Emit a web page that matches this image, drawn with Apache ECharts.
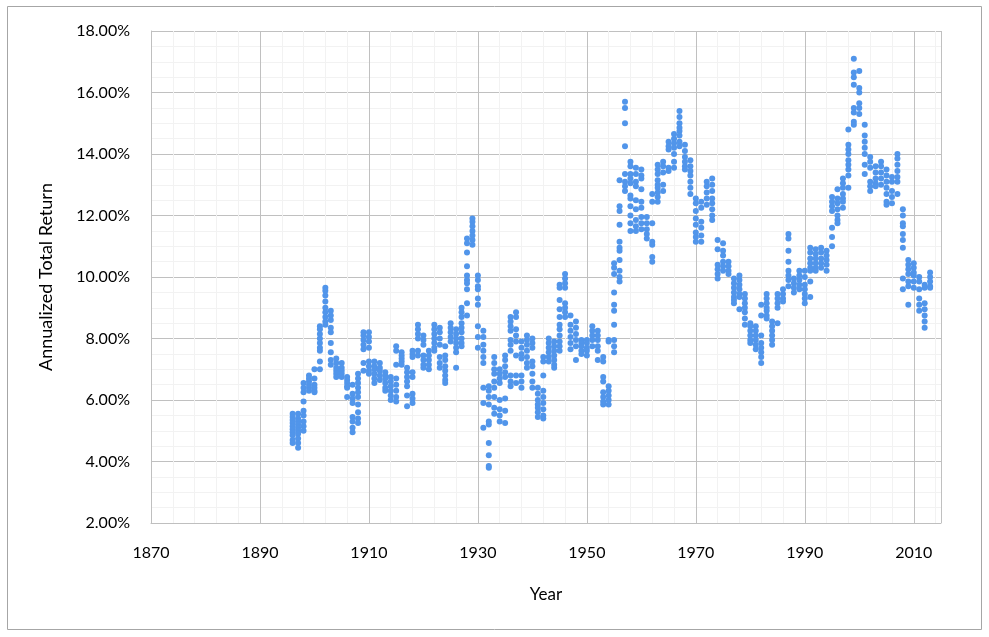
<!DOCTYPE html>
<html>
<head>
<meta charset="utf-8">
<script src="https://cdn.jsdelivr.net/npm/echarts@6/dist/echarts.min.js"></script>
<style>
html,body{margin:0;padding:0;background:#fff;}
#chart{width:989px;height:637px;}
</style>
</head>
<body>
<div id="chart"></div>
<script>
// Start years (x values) and the annualized total returns (%) observed for each year
const years = [1896,1897,1898,1899,1900,1901,1902,1903,1904,1905,1906,1907,1908,1909,1910,1911,1912,1913,1914,1915,1916,1917,1918,1919,1920,1921,1922,1923,1924,1925,1926,1927,1928,1929,1930,1931,1932,1933,1934,1935,1936,1937,1938,1939,1940,1941,1942,1943,1944,1945,1946,1947,1948,1949,1950,1951,1952,1953,1954,1955,1956,1957,1958,1959,1960,1961,1962,1963,1964,1965,1966,1967,1968,1969,1970,1971,1972,1973,1974,1975,1976,1977,1978,1979,1980,1981,1982,1983,1984,1985,1986,1987,1988,1989,1990,1991,1992,1993,1994,1995,1996,1997,1998,1999,2000,2001,2002,2003,2004,2005,2006,2007,2008,2009,2010,2011,2012,2013];

const returnsByYear = [
  [5.55,5.45,5.35,5.25,5.15,5.05,4.95,4.85,4.7,4.6],
  [5.55,5.4,5.3,5.2,5.1,5.0,4.9,4.75,4.6,4.45],
  [6.55,6.4,6.25,5.95,5.65,5.5,5.3,5.15,5.0],
  [6.8,6.7,6.6,6.5,6.4,6.3],
  [7.0,6.7,6.5,6.4,6.3,6.25],
  [8.4,8.3,8.15,8.0,7.85,7.7,7.6,7.25,7.0],
  [9.65,9.55,9.4,9.2,9.0,8.85,8.7,8.55,8.45],
  [8.9,8.75,8.6,8.35,8.2,7.85,7.55,7.3,7.15],
  [7.35,7.2,7.05,6.95,6.85,6.75],
  [7.2,7.05,6.95,6.85,6.75],
  [6.75,6.65,6.55,6.45,6.4,6.1],
  [6.5,6.2,6.05,5.9,5.45,5.3,5.1,4.95],
  [6.85,6.7,6.55,6.4,6.25,6.1,5.85,5.6,5.4,5.25],
  [8.2,8.1,7.95,7.8,7.65,7.2,6.95],
  [8.2,8.05,7.9,7.7,7.25,7.1,6.95,6.85],
  [7.25,7.1,7.0,6.85,6.7,6.55],
  [7.2,7.05,6.95,6.8,6.65],
  [6.9,6.8,6.7,6.55,6.4,6.3],
  [6.75,6.6,6.45,6.3,6.15,6.0],
  [7.75,7.6,7.15,6.7,6.5,6.3,6.1,5.95],
  [7.55,7.45,7.35,7.25,7.15],
  [7.05,6.9,6.75,6.6,6.45,6.15,5.8],
  [7.6,7.5,7.4,6.9,6.75,6.2,6.05,5.9],
  [8.45,8.3,8.15,8.0,7.6,7.45],
  [8.1,7.95,7.8,7.45,7.3,7.15,7.05],
  [7.6,7.45,7.3,7.15,7.0],
  [8.45,8.3,8.15,8.0,7.85,7.7,7.6],
  [8.35,8.2,8.0,7.8,7.4,7.2,7.05],
  [7.75,7.45,7.3,7.1,6.95,6.8,6.65,6.55],
  [8.5,8.35,8.2,8.05,7.9],
  [8.3,8.15,8.0,7.85,7.7,7.55,7.05],
  [9.0,8.85,8.7,8.5,8.35,8.2,8.0,7.85,7.75],
  [11.25,11.1,10.8,10.35,10.05,9.9,9.8,9.6,9.15,8.75],
  [11.9,11.8,11.65,11.5,11.35,11.2,11.05],
  [10.05,9.9,9.7,9.6,9.3,9.1,8.4,8.05,7.7],
  [8.25,8.05,7.8,7.6,7.4,7.2,6.4,5.9,5.1],
  [6.45,6.3,6.1,5.85,5.3,5.2,4.6,4.2,3.85,3.8],
  [7.4,7.2,7.0,6.85,6.6,6.4,6.1,5.75,5.55],
  [7.0,6.85,6.7,6.55,6.0,5.7,5.5,5.3],
  [7.45,7.3,7.1,6.9,6.75,6.05,5.65,5.25],
  [8.7,8.55,8.4,8.25,7.95,7.8,7.6,6.8,6.6,6.45],
  [8.85,8.7,8.3,8.1,7.9,7.45,6.8,6.55],
  [7.9,7.7,7.5,7.35,6.8,6.6,6.4],
  [8.1,7.95,7.8,7.6,7.4,7.2,7.05],
  [8.0,7.85,7.7,7.25,7.1,6.85,6.6,6.4],
  [6.4,6.2,6.0,5.85,5.75,5.6,5.45],
  [7.4,7.25,6.8,6.3,6.1,5.9,5.7,5.5,5.4],
  [8.0,7.85,7.7,7.55,7.4,7.25],
  [7.9,7.75,7.6,7.45,7.3,7.15,7.05],
  [9.75,9.65,9.25,8.95,8.7,8.45,8.3,8.1,7.9,7.75,7.6],
  [10.1,9.95,9.8,9.65,9.15,9.0,8.85,8.7],
  [8.75,8.45,8.25,8.05,7.85,7.65],
  [8.55,8.35,8.15,7.95,7.75,7.3],
  [7.95,7.85,7.75,7.6,7.5],
  [7.95,7.85,7.7,7.6,7.45],
  [8.4,8.25,8.1,7.95,7.75],
  [8.25,8.1,7.95,7.75,7.6,7.3],
  [7.4,7.25,6.75,6.6,6.25,6.1,5.95,5.85],
  [7.95,7.9,6.45,6.3,6.15,6.0,5.85],
  [10.45,10.3,10.1,9.5,9.1,8.9,8.45,7.95,7.75,7.55],
  [13.15,12.3,12.15,11.7,11.15,10.95,10.85,10.55,10.2,10.0,9.85],
  [15.7,15.5,15.0,14.25,13.35,13.1,12.95,12.8],
  [13.75,13.6,13.35,13.2,13.05,12.65,12.55,12.3,12.0,11.75,11.5],
  [13.55,13.35,13.1,12.95,12.5,12.2,11.85,11.65,11.5],
  [13.5,13.3,13.2,12.85,12.45,12.25,11.95,11.75,11.55],
  [11.95,11.75,11.55,11.4,11.25],
  [12.7,12.45,11.75,11.15,11.05,10.65,10.5],
  [13.65,13.5,13.35,13.15,13.0,12.9,12.75,12.6,12.45],
  [13.75,13.6,13.4,13.0,12.8],
  [14.4,14.25,14.15,13.55,13.45],
  [14.65,14.5,14.35,14.2,14.0,13.75,13.55],
  [15.4,15.2,15.0,14.85,14.75,14.6,14.4,14.25],
  [14.3,14.1,13.9,13.75,13.6,13.5],
  [13.8,13.6,13.45,13.3,13.1,12.9,12.7],
  [12.55,12.4,12.15,11.9,11.7,11.45,11.3,11.15],
  [12.45,12.25,11.8,11.6,11.35,11.15],
  [13.1,12.95,12.75,12.55,12.35],
  [13.2,13.0,12.8,12.55,12.4,12.2,12.0,11.85],
  [11.2,10.9,10.4,10.25,10.1,9.95],
  [11.1,10.85,10.7,10.5,10.35,10.2],
  [10.5,10.35,10.2,10.1],
  [9.95,9.8,9.65,9.5,9.35,9.25,9.15],
  [10.05,9.9,9.75,9.6,9.45,9.35,8.95],
  [9.45,9.3,9.15,9.0,8.85,8.65,8.45],
  [8.5,8.4,8.25,8.1,7.95,7.85],
  [8.4,8.25,8.1,7.95,7.8,7.65],
  [9.1,8.75,8.1,7.85,7.7,7.55,7.4,7.2],
  [9.45,9.3,9.15,9.0,8.9,8.75,8.65],
  [8.55,8.4,8.25,8.1,7.95,7.8],
  [9.45,9.3,9.15,9.0,8.5],
  [9.6,9.45,9.3,9.2],
  [11.4,11.25,10.85,10.5,10.2,10.05,9.9,9.7],
  [9.95,9.8,9.65,9.5],
  [10.2,10.05,9.9,9.75,9.6],
  [10.2,10.0,9.75,9.6,9.45,9.3,9.15],
  [10.95,10.8,10.6,10.45,10.3,10.2,9.85,9.35],
  [10.9,10.75,10.6,10.45,10.3,10.2],
  [10.95,10.8,10.6,10.45,10.3],
  [10.85,10.7,10.55,10.4,10.2],
  [12.6,12.45,12.3,12.15,11.6,11.3,11.0],
  [12.85,12.55,12.4,12.2,12.0,11.85,11.75],
  [13.2,13.05,12.9,12.7,12.55,12.45,12.25],
  [14.8,14.3,14.15,14.0,13.8,13.65,13.5,13.3,12.9],
  [17.1,16.65,16.5,16.25,15.5,15.35,15.05,14.95],
  [16.7,16.15,16.0,15.65,15.5,15.3],
  [14.95,14.6,14.4,14.2,14.0,13.65,13.35],
  [13.9,13.75,13.55,13.1,12.95,12.8],
  [13.6,13.4,13.2,13.05,12.95],
  [13.75,13.6,13.4,13.2,13.0],
  [13.5,13.3,13.1,12.9,12.7,12.45,12.35],
  [13.25,13.1,12.8,12.6,12.4],
  [14.0,13.85,13.65,13.45,13.25,13.1,12.7],
  [12.2,12.0,11.75,11.65,11.4,11.2,10.95,9.95,9.6],
  [10.55,10.4,10.25,10.1,9.85,9.7,9.1],
  [10.45,10.3,10.15,10.05,9.85,9.65],
  [10.0,9.85,9.6,9.3,9.1,8.9],
  [9.75,9.65,9.15,8.95,8.75,8.55,8.35],
  [10.15,10.0,9.85,9.7,9.65]
];

const xTitle = 'Year';
const yTitle = 'Annualized Total Return';

const points = [];
years.forEach((yr, i) => {
  returnsByYear[i].forEach(v => points.push([yr, v]));
});

const FONT = 'Lato, "Open Sans", sans-serif';
const chart = echarts.init(document.getElementById('chart'), null, {renderer: 'canvas'});
chart.setOption({
  animation: false,
  backgroundColor: '#ffffff',
  graphic: [{
    type: 'rect',
    shape: {x: 7.5, y: 6.5, width: 974, height: 623},
    style: {fill: 'none', stroke: '#a6a6a6', lineWidth: 1},
    silent: true,
    z: -1
  }],
  grid: {left: 151, top: 31, width: 790, height: 492, containLabel: false},
  xAxis: {
    type: 'value',
    min: 1870,
    max: 2015,
    interval: 20,
    name: xTitle,
    nameLocation: 'middle',
    nameGap: 63,
    nameTextStyle: {fontFamily: FONT, fontSize: 17, color: '#000'},
    axisLine: {show: true, lineStyle: {color: '#bfbfbf', width: 1}},
    axisTick: {show: false},
    axisLabel: {
      fontFamily: FONT, fontSize: 16, color: '#000', margin: 22,
      showMaxLabel: false,
      formatter: v => String(v)
    },
    splitLine: {show: true, lineStyle: {color: '#c0c0c0', width: 1}},
    minorTick: {show: false, splitNumber: 5},
    minorSplitLine: {show: true, lineStyle: {color: '#f2f2f2', width: 1}}
  },
  yAxis: {
    type: 'value',
    min: 2,
    max: 18,
    interval: 2,
    name: yTitle,
    nameLocation: 'middle',
    nameGap: 96,
    nameRotate: 90,
    nameTextStyle: {fontFamily: FONT, fontSize: 18, color: '#000'},
    axisLine: {show: true, lineStyle: {color: '#bfbfbf', width: 1}},
    axisTick: {show: false},
    axisLabel: {
      fontFamily: FONT, fontSize: 16, color: '#000', margin: 21,
      formatter: v => v.toFixed(2) + '%'
    },
    splitLine: {show: true, lineStyle: {color: '#c0c0c0', width: 1}},
    minorTick: {show: false, splitNumber: 4},
    minorSplitLine: {show: true, lineStyle: {color: '#f2f2f2', width: 1}}
  },
  series: [{
    type: 'scatter',
    data: points,
    symbol: 'circle',
    symbolSize: 6,
    itemStyle: {color: '#5195ea', opacity: 1},
    silent: true
  }]
});
</script>
</body>
</html>
